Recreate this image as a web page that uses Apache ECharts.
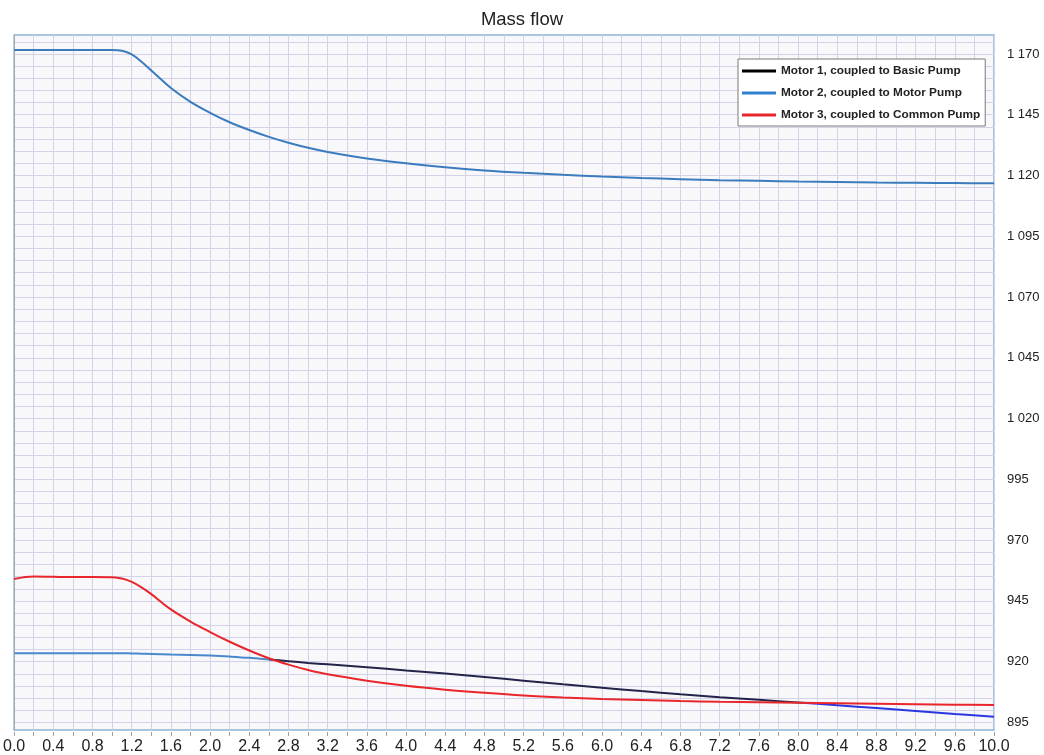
<!DOCTYPE html>
<html>
<head>
<meta charset="utf-8">
<title>Mass flow</title>
<script src="https://cdn.jsdelivr.net/npm/echarts@6/dist/echarts.min.js"></script>
<style>
  html, body { margin: 0; padding: 0; background: #ffffff; }
  #chart { width: 1044px; height: 755px; }
</style>
</head>
<body>
<div id="chart"></div>
<script>
// Simulation time, s
const time = [0, 0.2, 0.4, 0.6, 0.8, 1.0, 1.1, 1.2, 1.3, 1.4, 1.6, 1.8, 2.0, 2.2, 2.4, 2.6, 2.8, 3.0,
  3.2, 3.6, 4.0, 4.4, 4.8, 5.2, 5.6, 6.0, 6.4, 6.8, 7.2, 7.6, 8.0, 8.4, 8.8, 9.2, 9.6, 10.0];

// Mass flow per motor / pump pairing
const motor1Basic = [923.5, 923.5, 923.5, 923.5, 923.5, 923.5, 923.5, 923.4, 923.3, 923.2, 923.0, 922.8,
  922.5, 922.1, 921.6, 920.9, 920.2, 919.5, 918.9, 917.7, 916.4, 915.1, 913.7, 912.2, 910.7, 909.3,
  907.9, 906.6, 905.4, 904.3, 903.2, 902.1, 900.9, 899.7, 898.5, 897.4];
const motor2Motor = [1171.6, 1171.6, 1171.6, 1171.6, 1171.6, 1171.6, 1171.3, 1169.8, 1166.8, 1163.2,
  1156.0, 1150.3, 1145.8, 1141.9, 1138.7, 1135.9, 1133.5, 1131.4, 1129.7, 1127.0, 1125.0, 1123.4,
  1122.1, 1121.1, 1120.3, 1119.6, 1119.0, 1118.5, 1118.1, 1117.8, 1117.5, 1117.3, 1117.1, 1117.0,
  1116.9, 1116.8];
const motor3Common = [954.0, 955.0, 954.9, 954.8, 954.8, 954.7, 954.2, 952.8, 950.6, 947.8, 941.5, 936.5,
  932.2, 928.2, 924.6, 921.4, 918.8, 916.6, 914.8, 912.2, 910.1, 908.5, 907.2, 906.1, 905.3, 904.7,
  904.2, 903.8, 903.5, 903.3, 903.1, 902.9, 902.7, 902.5, 902.3, 902.2];

const seriesNames = [
  'Motor 1, coupled to Basic Pump',
  'Motor 2, coupled to Motor Pump',
  'Motor 3, coupled to Common Pump'
];
const seriesColors = ['#000000', '#2f7fcf', '#e8262c'];

// Axis ranges and tick positions
const xMin = 0, xMax = 10, xStep = 0.2;
const yMin = 891.9, yMax = 1177.8;
const yGridValues = [];
for (let v = 895; v <= 1175; v += 5) yGridValues.push(v);
const yLabelValues = [895, 920, 945, 970, 995, 1020, 1045, 1070, 1095, 1120, 1145, 1170];

const FONT = '"Liberation Sans", Arial, Helvetica, sans-serif';

function pairs(values) {
  return time.map((t, i) => [t, values[i]]);
}

function fmtThousands(v) {
  if (v >= 1000) {
    const th = Math.floor(v / 1000);
    const rest = String(Math.round(v - th * 1000)).padStart(3, '0');
    return th + ' ' + rest;
  }
  return String(Math.round(v));
}

const chart = echarts.init(document.getElementById('chart'), null, { renderer: 'canvas' });

chart.setOption({
  animation: false,
  backgroundColor: '#ffffff',
  title: {
    text: 'Mass flow',
    left: 'center',
    top: 5,
    textStyle: { fontFamily: FONT, fontSize: 18.5, fontWeight: 'normal', color: '#222222' }
  },
  grid: {
    left: 13, right: 50, top: 35, bottom: 25,
    show: true,
    backgroundColor: '#f8f8fa',
    borderColor: '#8db4d6',
    borderWidth: 1.5
  },
  legend: {
    orient: 'vertical',
    left: 738,
    top: 59,
    icon: 'rect',
    itemWidth: 34,
    itemHeight: 3,
    itemGap: 8,
    padding: [5, 5, 4, 4],
    backgroundColor: '#ffffff',
    borderColor: '#7a7a7a',
    borderWidth: 1,
    textStyle: { fontFamily: FONT, fontSize: 11.8, fontWeight: 'bold', color: '#222222', lineHeight: 14 },
    data: seriesNames.map((n, i) => ({ name: n, itemStyle: { color: seriesColors[i] } }))
  },
  xAxis: {
    type: 'value',
    min: xMin,
    max: xMax,
    interval: xStep,
    offset: 2,
    axisLine: { show: false },
    axisTick: { show: true, length: 4, lineStyle: { color: '#a0a0a0' } },
    axisLabel: {
      margin: 7,
      fontFamily: FONT,
      fontSize: 16,
      color: '#222222',
      showMinLabel: true,
      showMaxLabel: true,
      formatter: v => (Math.round(v * 10) % 4 === 0 ? v.toFixed(1) : '')
    },
    splitLine: { show: true, lineStyle: { color: '#d4d2e9', width: 1 } }
  },
  yAxis: {
    type: 'value',
    position: 'right',
    min: yMin,
    max: yMax,
    offset: 3,
    axisLine: { show: true, lineStyle: { color: '#a8a8a8', width: 1 } },
    axisTick: { show: false, customValues: yGridValues },
    axisLabel: {
      customValues: yLabelValues,
      margin: 10,
      fontFamily: FONT,
      fontSize: 13,
      color: '#222222',
      formatter: v => fmtThousands(v)
    },
    splitLine: { show: true, lineStyle: { color: '#d4d2e9', width: 1 } }
  },
  visualMap: {
    type: 'piecewise',
    show: false,
    seriesIndex: 0,
    dimension: 0,
    pieces: [
      { lt: 2.6, color: '#4a88cc' },
      { gte: 2.6, lt: 8.05, color: '#24244a' },
      { gte: 8.05, color: '#2a36e0' }
    ]
  },
  series: [
    {
      name: seriesNames[0], type: 'line', data: pairs(motor1Basic),
      showSymbol: false, smooth: 0.35,
      lineStyle: { width: 2 }, itemStyle: { color: seriesColors[0] }
    },
    {
      name: seriesNames[1], type: 'line', data: pairs(motor2Motor),
      showSymbol: false, smooth: 0.35,
      lineStyle: { width: 2, color: '#3a7cbd' }, itemStyle: { color: seriesColors[1] }
    },
    {
      name: seriesNames[2], type: 'line', data: pairs(motor3Common),
      showSymbol: false, smooth: 0.35,
      lineStyle: { width: 2, color: '#e8262c' }, itemStyle: { color: seriesColors[2] }
    }
  ]
});
</script>
</body>
</html>
